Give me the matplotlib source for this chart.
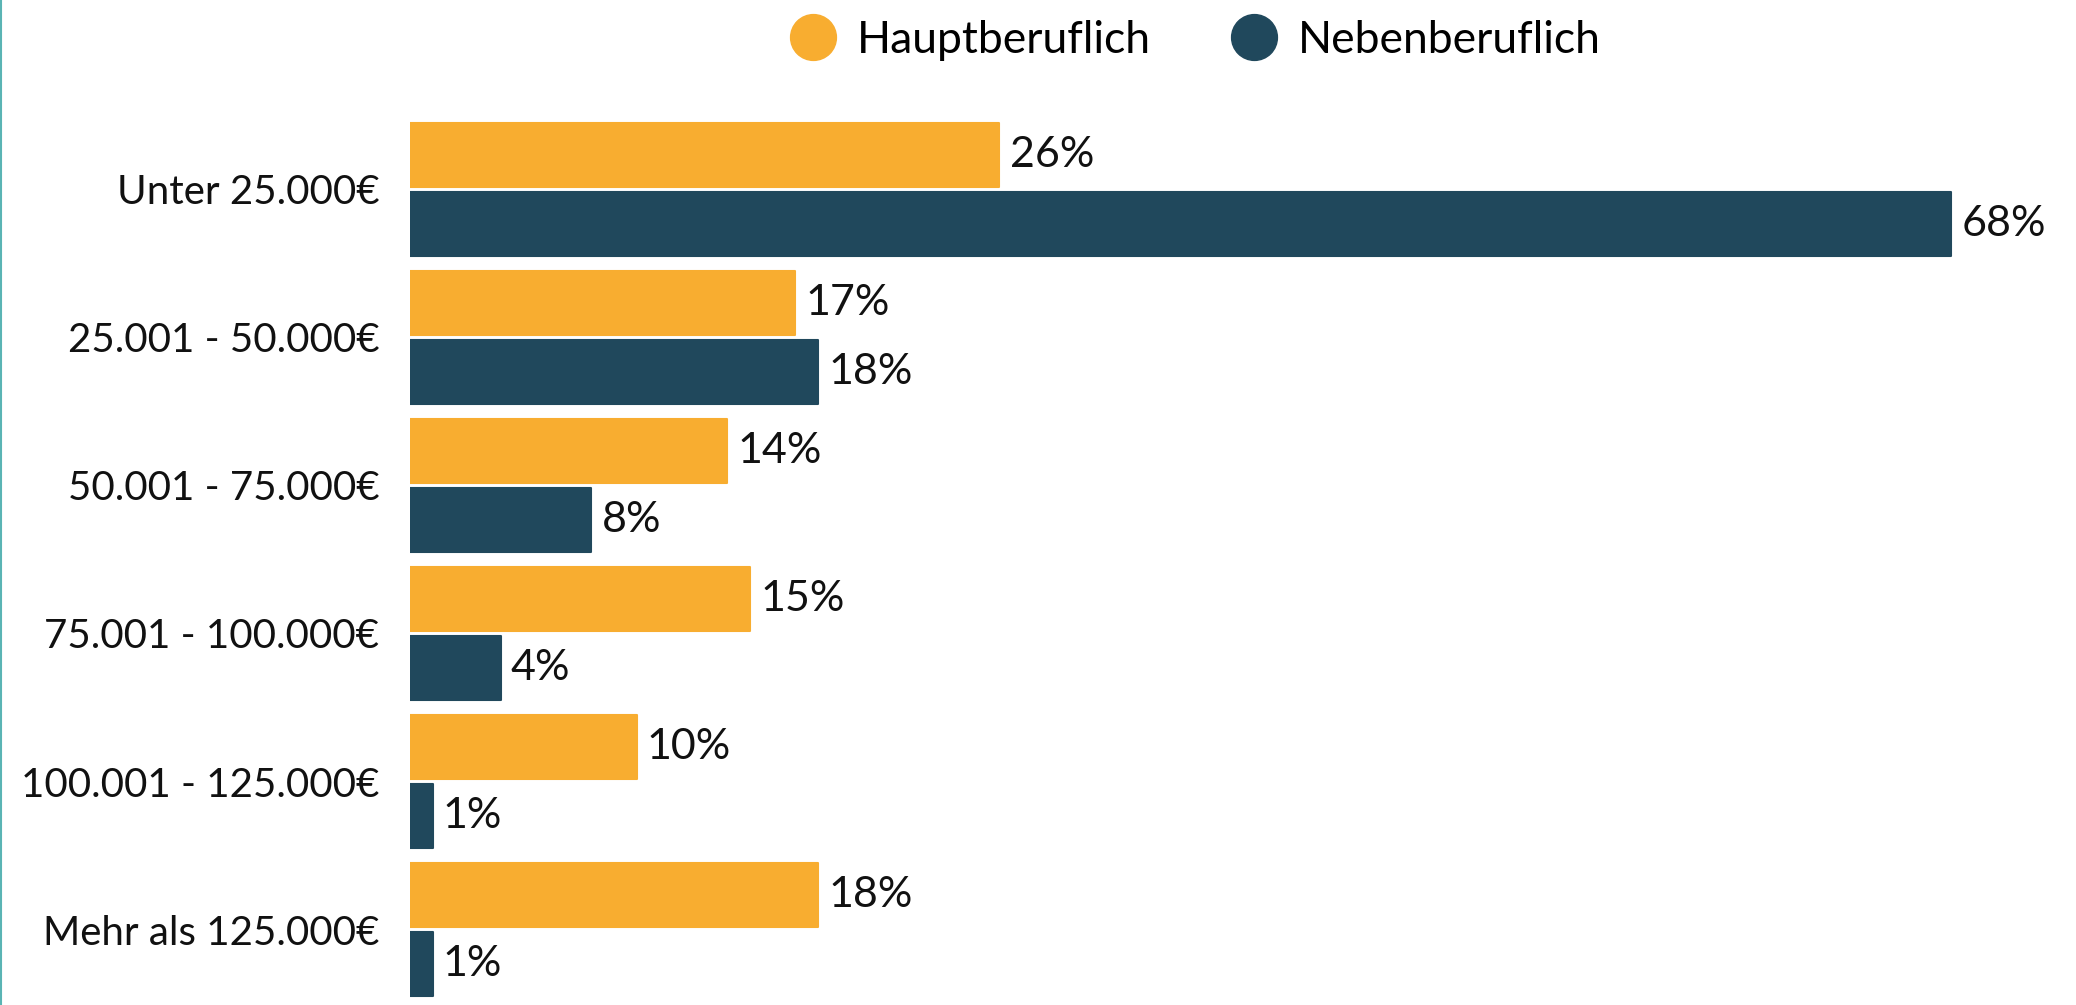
import matplotlib.pyplot as plt
from matplotlib.lines import Line2D

plt.rcParams['font.family'] = ['Lato', 'DejaVu Sans']

categories = ['Unter 25.000€', '25.001 - 50.000€', '50.001 - 75.000€',
              '75.001 - 100.000€', '100.001 - 125.000€', 'Mehr als 125.000€']
hauptberuflich = [26, 17, 14, 15, 10, 18]
nebenberuflich = [68, 18, 8, 4, 1, 1]
series_names = ['Hauptberuflich', 'Nebenberuflich']

orange = '#F8AD30'
navy = '#20485C'

fig = plt.figure(figsize=(20.76, 10.05), dpi=100)
ax = fig.add_axes([410 / 2076, 0, 1 - 410 / 2076, 1])

pos = list(range(len(categories)))
h = 0.432
off = 0.233
for vals, color, sign in [(hauptberuflich, orange, -1), (nebenberuflich, navy, 1)]:
    ys = [p + sign * off for p in pos]
    ax.barh(ys, vals, height=h, color=color, edgecolor=color, linewidth=1.5,
            joinstyle='round')
    for y, v in zip(ys, vals):
        ax.text(v + 0.45, y, f'{v}%', va='center', ha='left', fontsize=31, color='#111111')

ax.set_xlim(0, 73.5)
ax.set_ylim(5.51, -1.28)
ax.set_yticks(pos)
ax.set_yticklabels(categories, fontsize=29, color='#111111')
ax.tick_params(axis='y', length=0, pad=22)
ax.set_xticks([])
for s in ax.spines.values():
    s.set_visible(False)

handles = [Line2D([], [], marker='o', linestyle='', markersize=33, color=c)
           for c in [orange, navy]]
fig.legend(handles, series_names, loc='center', bbox_to_anchor=(0.576, 0.96),
           ncol=2, frameon=False, fontsize=32, handletextpad=0.5,
           columnspacing=1.8, handlelength=1.0)

# thin teal border on the left edge
fig.add_artist(Line2D([0.0007, 0.0007], [0, 1], transform=fig.transFigure,
                      color='#5AB4B4', linewidth=1.5))

fig.savefig('out.png', dpi=100)
